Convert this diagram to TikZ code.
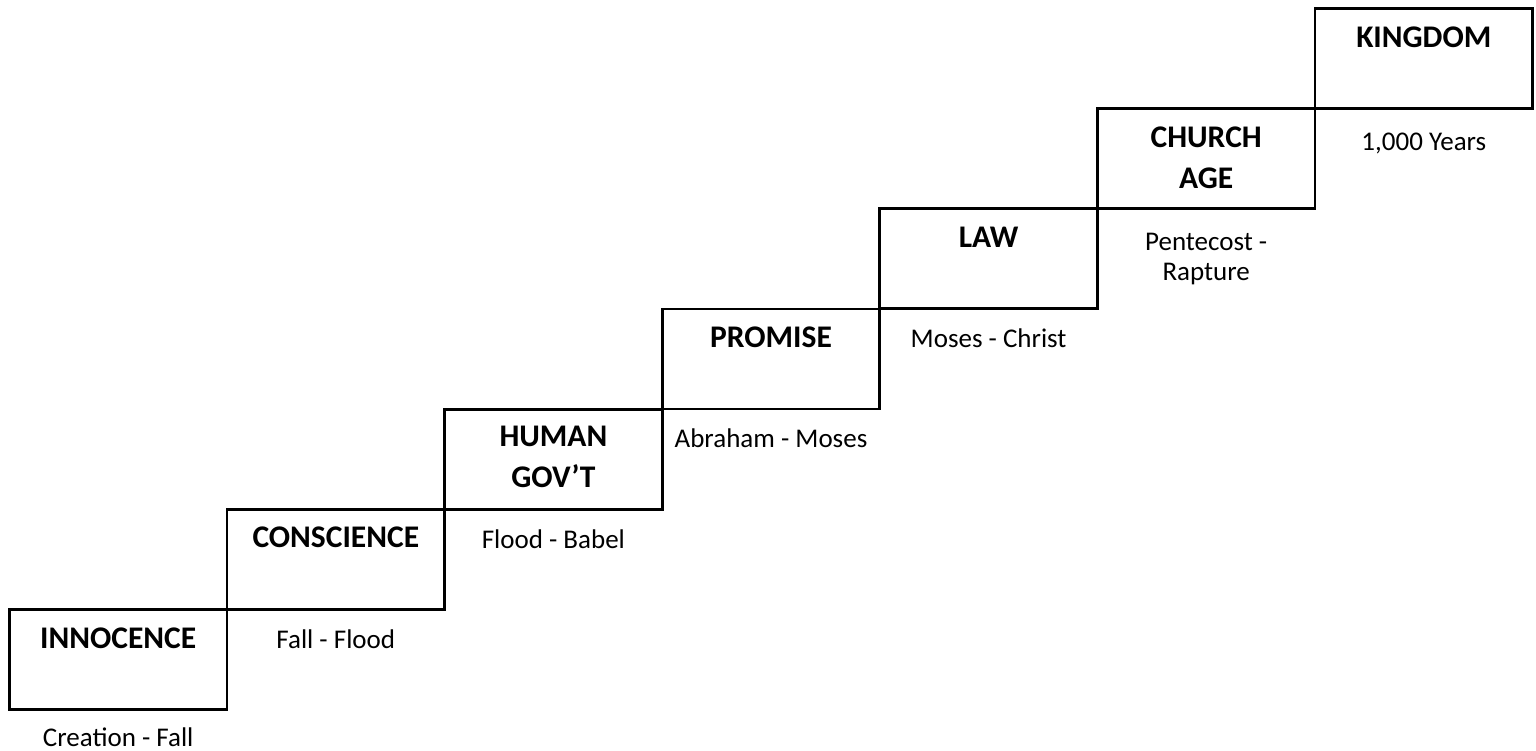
\documentclass[tikz,border=0pt]{standalone}
\usepackage{fontspec}
\setmainfont{Carlito}
\begin{document}
\begin{tikzpicture}[x=1pt,y=-1pt,
  era/.style={draw=black,line width=2.8pt,rectangle,minimum width=217.6pt,minimum height=100pt,inner sep=0pt,anchor=north west},
  title/.style={anchor=base,inner sep=0pt,align=center,font=\fontsize{31.5}{41}\selectfont\bfseries},
  span/.style={anchor=base,inner sep=0pt,align=center,font=\fontsize{27}{30}\selectfont}]
\useasboundingbox (0,0) rectangle (1536,750);
\foreach \k/\nm in {0/b1,1/b2,2/b3,3/b4,4/b5,5/b6,6/b7}{
  \node[era] (\nm) at ({8+217.6*\k},{608-100.15*\k}) {};
}
\node[title] (t1) at ([yshift=-40pt]b1.north) {INNOCENCE};
\node[title] (t2) at ([yshift=-40pt]b2.north) {CONSCIENCE};
\node[title] (t3) at ([yshift=-80pt]b3.north) {HUMAN\\GOV’T};
\node[title] (t4) at ([yshift=-40pt]b4.north) {PROMISE};
\node[title] (t5) at ([yshift=-40pt]b5.north) {LAW};
\node[title] (t6) at ([yshift=-81pt]b6.north) {CHURCH\\AGE};
\node[title] (t7) at ([yshift=-40pt]b7.north) {KINGDOM};
\node[span] (s1) at ([yshift=-35.5pt]b1.south) {Creation - Fall};
\node[span] (s2) at ([yshift=-38pt]b2.south) {Fall - Flood};
\node[span] (s3) at ([yshift=-38pt]b3.south) {Flood - Babel};
\node[span] (s4) at ([yshift=-37pt]b4.south) {Abraham - Moses};
\node[span] (s5) at ([yshift=-37pt]b5.south) {Moses - Christ};
\node[span] (s6) at ([yshift=-70pt]b6.south) {Pentecost -\\Rapture};
\node[span] (s7) at ([yshift=-41pt]b7.south) {1,000 Years};
\end{tikzpicture}
\end{document}
